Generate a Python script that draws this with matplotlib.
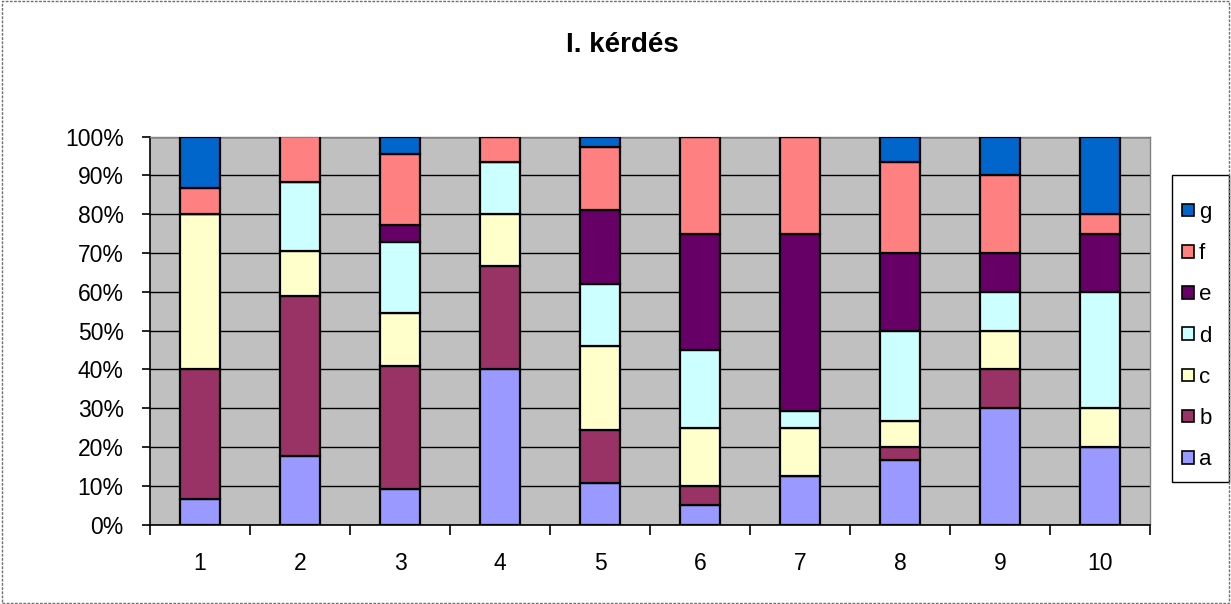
import matplotlib
matplotlib.use("Agg")
import matplotlib.pyplot as plt
from matplotlib.patches import Rectangle, Patch
import numpy as np

plt.rcParams['font.family'] = ['Liberation Sans', 'DejaVu Sans']

categories = ['1', '2', '3', '4', '5', '6', '7', '8', '9', '10']
series_names = ['a', 'b', 'c', 'd', 'e', 'f', 'g']
a = [6.7, 17.6, 9.1, 40.0, 10.8, 5.0, 12.5, 16.7, 30.0, 20.0]
b = [33.3, 41.2, 31.8, 26.7, 13.5, 5.0, 0.0, 3.3, 10.0, 0.0]
c = [40.0, 11.8, 13.6, 13.3, 21.6, 15.0, 12.5, 6.7, 10.0, 10.0]
d = [0.0, 17.6, 18.2, 13.3, 16.2, 20.0, 4.2, 23.3, 10.0, 30.0]
e = [0.0, 0.0, 4.5, 0.0, 18.9, 30.0, 45.8, 20.0, 10.0, 15.0]
f = [6.7, 11.8, 18.2, 6.7, 16.2, 25.0, 25.0, 23.3, 20.0, 5.0]
g = [13.3, 0.0, 4.5, 0.0, 2.7, 0.0, 0.0, 6.7, 10.0, 20.0]
colors = ['#9999FF', '#993366', '#FFFFCC', '#CCFFFF', '#660066', '#FF8080', '#0066CC']
title = 'I. kérdés'

data = [a, b, c, d, e, f, g]

W, H = 1231, 604
fig = plt.figure(figsize=(W/100, H/100), dpi=100)
ax = fig.add_axes([150/W, 1-524.5/H, 1000/W, (524.5-136.5)/H])
ax.set_facecolor('#C0C0C0')

x = np.arange(len(categories))
bottom = np.zeros(len(categories))
for vals, col, name in zip(data, colors, series_names):
    v = np.array(vals)
    ax.bar(x, v, 0.4, bottom=bottom, color=col, edgecolor='black', linewidth=1.6, label=name, zorder=3)
    bottom += v

ax.set_xlim(-0.5, len(categories) - 0.5)
ax.set_ylim(0, 100)
ax.set_yticks(np.arange(0, 101, 10))
ax.set_yticklabels([f'{t}%' for t in range(0, 101, 10)], fontsize=16.5)
ax.yaxis.grid(True, color='black', linewidth=1.0, zorder=1)
ax.set_axisbelow(True)

ax.set_xticks(x)
ax.set_xticklabels(categories, fontsize=16.5)
ax.set_xticks(np.arange(-0.5, len(categories), 1), minor=True)
ax.tick_params(axis='x', which='major', length=0, pad=20)
ax.tick_params(axis='x', which='minor', length=7, width=1.2, direction='out')
ax.tick_params(axis='y', length=6, width=1.2, direction='out', pad=13)

for s in ['top', 'right']:
    ax.spines[s].set_color('#808080')
    ax.spines[s].set_linewidth(1.0)
for s in ['left', 'bottom']:
    ax.spines[s].set_color('black')
    ax.spines[s].set_linewidth(1.2)

fig.text(622/W, 1-52/H, title, ha='center', va='baseline', fontsize=20, fontweight='bold')

handles = [Patch(facecolor=col, edgecolor='black', linewidth=1.2) for col in colors][::-1]
labels = series_names[::-1]
leg = fig.legend(handles, labels, loc='center', bbox_to_anchor=(1197/W, 1-336/H),
                 fontsize=16, handlelength=0.5, handleheight=0.5, handletextpad=0.25,
                 labelspacing=0.91, borderpad=0, frameon=False)

fig.patches.append(Rectangle((1172/W, 1-482/H), 57/W, 307/H, transform=fig.transFigure,
                             fill=True, facecolor='white', edgecolor='black', linewidth=1.0, zorder=0))

fig.patches.append(Rectangle((0.002, 0.002), 0.996, 0.996, transform=fig.transFigure,
                             fill=False, edgecolor='#707070', linewidth=1.0, linestyle=(0, (2, 1))))

fig.savefig('out.png', dpi=100)
